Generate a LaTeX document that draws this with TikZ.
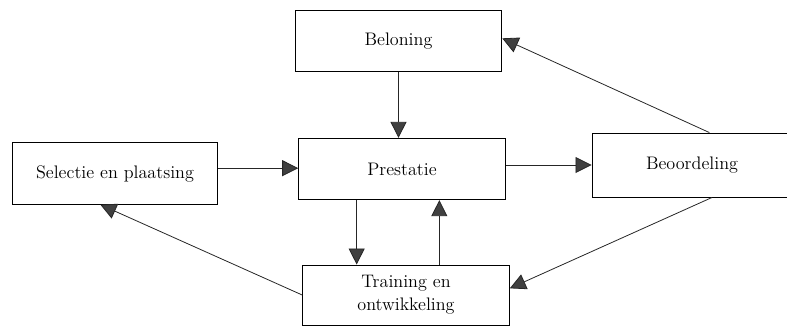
\documentclass[tikz,border=0pt]{standalone}
\usepackage{tikz}
\usetikzlibrary{arrows.meta,positioning}

\begin{document}
\begin{tikzpicture}[
  x=0.75pt, y=-0.75pt,
  block/.style={rectangle, draw, line width=0.7pt, minimum width=155pt,
                minimum height=46pt, align=center,
                font=\fontsize{13.6}{17}\selectfont},
  flow/.style={-{Triangle[length=12pt, width=12pt, fill=black!75]},
               line width=0.6pt, black!85},
]
  \clip (0,0) rectangle (787,329);

  % Blocks
  \node[block] (bel) at (398.5,41) {Beloning};
  \node[block] (pres) at (402,169) {Prestatie};
  \node[block, minimum width=154pt] (sel) at (115,173.5) {Selectie en plaatsing};
  \node[block, minimum width=150pt, minimum height=48pt] (beo) at (692,165) {Beoordeling};
  \node[block, minimum height=45pt] (train) at (406,295) {Training en\\ontwikkeling};

  % Connections
  \draw[flow] (bel.south) -- (bel.south |- pres.north);
  \draw[flow] ([yshift=4pt]sel.east) -- ([yshift=4pt]sel.east -| pres.west);
  \draw[flow] ([yshift=3pt]pres.east) -- ([yshift=3pt]pres.east -| beo.west);
  \draw[flow] ([xshift=-34pt]pres.south) -- ([xshift=-34pt]pres.south |- train.north);
  \draw[flow] ([xshift=25pt]train.north) -- ([xshift=25pt]train.north |- pres.south);

  % Diagonal connections
  \draw[flow] ([xshift=13pt]beo.north) -- ([yshift=2pt]bel.east);
  \draw[flow] ([xshift=15pt]beo.south) -- ([yshift=5pt]train.east);
  \draw[flow] (train.west) -- ([xshift=-11pt]sel.south);

\end{tikzpicture}
\end{document}
